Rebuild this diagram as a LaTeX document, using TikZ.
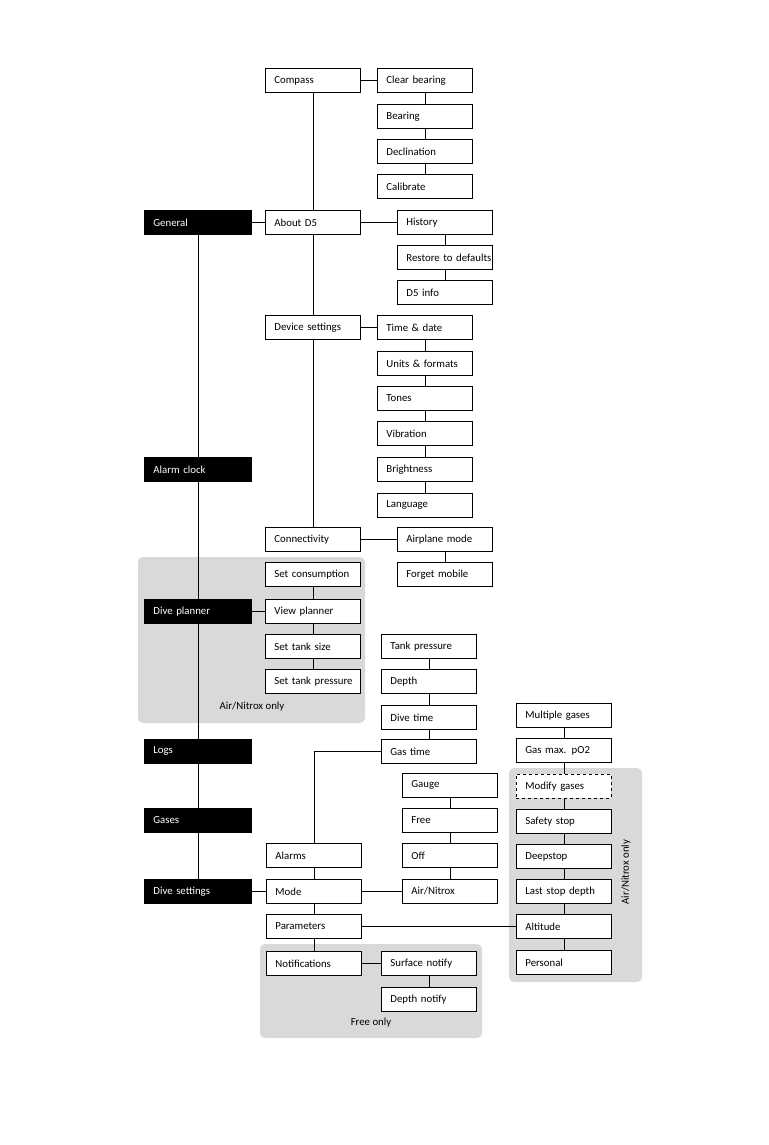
\documentclass[tikz,border=0pt]{standalone}
\usepackage{fontspec}
\setmainfont{Carlito}
\begin{document}
\begin{tikzpicture}[x=1pt,y=-1pt,
  every node/.style={font=\fontsize{10.8}{12}\selectfont},
  box/.style={draw=black, line width=0.8pt, fill=white, anchor=north west,
    minimum height=24pt, text width=77pt, inner xsep=9pt, inner ysep=0pt, align=left},
  wide/.style={box, text width=89pt},
  dark/.style={wide, fill=black, text=white},
  dbox/.style={box, dashed},
  link/.style={line width=0.8pt},
  region/.style={fill=black!15, rounded corners=5pt},
  note/.style={font=\fontsize{10.8}{12}\selectfont}]
\fill[white] (0,0) rectangle (768,1145);
\useasboundingbox (0,0) rectangle (768,1145);
% regions
\fill[region] (138,557) rectangle (365,723);
\fill[region] (260,944) rectangle (482,1038);
\fill[region] (509,768) rectangle (642,982);
\node[note] (lblplanner) at (252,707) {Air/Nitrox only};
\node[note] (lblfree) at (371,1023) {Free only};
\node[note, rotate=90] (lblparams) at (626,872) {Air/Nitrox only};
% main column
\node[dark] (general) at (144,210) {General};
\node[dark] (alarmclock) at (144,457) {Alarm clock};
\node[dark] (diveplanner) at (144,599) {Dive planner};
\node[dark] (logs) at (144,739) {Logs};
\node[dark] (gases) at (144,808) {Gases};
\node[dark] (divesettings) at (144,879) {Dive settings};
% general column
\node[box] (compass) at (265,68) {Compass};
\node[box] (about) at (265,210) {About D5};
\node[box] (device) at (265,315) {\mbox{Device settings}};
\node[box] (connect) at (265,527) {Connectivity};
% compass items
\node[box] (clear) at (377,68) {\mbox{Clear bearing}};
\node[box] (bearing) at (377,104) {Bearing};
\node[box] (declin) at (377,139) {Declination};
\node[box] (calib) at (377,174) {Calibrate};
% about items
\node[box] (history) at (397,210) {History};
\node[box] (restore) at (397,245) {\mbox{Restore to defaults}};
\node[box] (dinfo) at (397,280) {D5 info};
% device items
\node[box] (time) at (377,315) {\mbox{Time \& date}};
\node[box] (units) at (377,351) {\mbox{Units \& formats}};
\node[box] (tones) at (377,386) {Tones};
\node[box] (vibr) at (377,421) {Vibration};
\node[box] (bright) at (377,457) {Brightness};
\node[box] (lang) at (377,493) {Language};
% connectivity items
\node[box] (airplane) at (397,527) {\mbox{Airplane mode}};
\node[box] (forget) at (397,562) {\mbox{Forget mobile}};
% dive planner
\node[box] (setcons) at (265,562) {\mbox{Set consumption}};
\node[box] (viewpl) at (265,599) {\mbox{View planner}};
\node[box] (tanksize) at (265,634) {\mbox{Set tank size}};
\node[box] (tankpress) at (265,669) {\mbox{Set tank pressure}};
% alarms
\node[box] (alpress) at (381,634) {\mbox{Tank pressure}};
\node[box] (aldepth) at (381,669) {Depth};
\node[box] (altime) at (381,705) {\mbox{Dive time}};
\node[box] (algas) at (381,739) {\mbox{Gas time}};
% dive settings
\node[box] (alarms) at (266,843) {Alarms};
\node[box] (mode) at (266,879) {Mode};
\node[box] (params) at (266,914) {Parameters};
\node[box] (notif) at (266,951) {Notifications};
\node[box] (surf) at (381,951) {\mbox{Surface notify}};
\node[box] (dnotif) at (381,987) {\mbox{Depth notify}};
% modes
\node[box] (gauge) at (402,773) {Gauge};
\node[box] (free) at (402,808) {Free};
\node[box] (off) at (402,843) {Off};
\node[box] (airnx) at (402,879) {Air/Nitrox};
% parameters
\node[box] (multi) at (516,703) {\mbox{Multiple gases}};
\node[box] (maxpo) at (516,738) {\mbox{Gas max. pO2}};
\node[dbox] (modify) at (516,774) {\mbox{Modify gases}};
\node[box] (safety) at (516,809) {\mbox{Safety stop}};
\node[box] (deep) at (516,844) {Deepstop};
\node[box] (laststop) at (516,879) {\mbox{Last stop depth}};
\node[box] (altitude) at (516,914) {Altitude};
\node[box] (personal) at (516,950) {Personal};
% connectors
\begin{scope}[link]
\draw (general) -- (alarmclock) -- (diveplanner) -- (logs) -- (gases) -- (divesettings);
\draw (general) -- (about);
\draw (compass) -- (about) -- (device) -- (connect);
\draw (compass) -- (clear);
\draw (clear) -- (bearing) -- (declin) -- (calib);
\draw (about) -- (history);
\draw (history) -- (restore) -- (dinfo);
\draw (device) -- (time);
\draw (time) -- (units) -- (tones) -- (vibr) -- (bright) -- (lang);
\draw (connect) -- (airplane);
\draw (airplane) -- (forget);
\draw (diveplanner) -- (viewpl);
\draw (setcons) -- (viewpl) -- (tanksize) -- (tankpress);
\draw (alpress) -- (aldepth) -- (altime) -- (algas);
\draw (algas.west) -| (alarms.north);
\draw (alarms) -- (mode) -- (params) -- (notif);
\draw (divesettings) -- (mode);
\draw (mode) -- (airnx);
\draw (gauge) -- (free) -- (off) -- (airnx);
\draw (notif) -- (surf);
\draw (surf) -- (dnotif);
\draw (params) -- (altitude);
\draw (multi) -- (maxpo) -- (modify) -- (safety) -- (deep) -- (laststop) -- (altitude) -- (personal);
\end{scope}
\end{tikzpicture}
\end{document}
